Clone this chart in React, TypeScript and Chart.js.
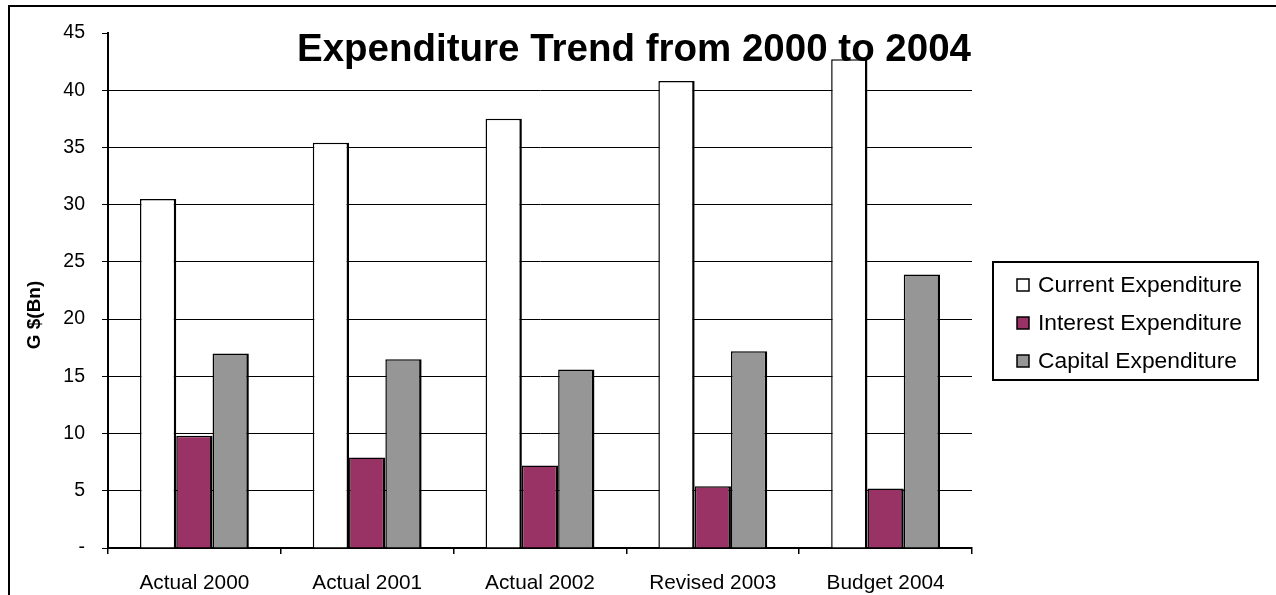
import React, { useEffect, useRef } from 'react';
import { Chart, registerables } from 'chart.js';

Chart.register(...registerables);

const categories = ['Actual 2000', 'Actual 2001', 'Actual 2002', 'Revised 2003', 'Budget 2004'];
const currentExpenditure = [30.5, 35.4, 37.5, 40.8, 42.7];
const interestExpenditure = [9.8, 7.9, 7.2, 5.4, 5.2];
const capitalExpenditure = [17.0, 16.5, 15.6, 17.2, 23.9];
const seriesLabels = ['Current Expenditure', 'Interest Expenditure', 'Capital Expenditure'];
const seriesColors = ['#FFFFFF', '#993366', '#969696'];
const yMin = 0;
const yMax = 45;
const yStep = 5;
const zeroTickLabel = '-';
const titleText = 'Expenditure Trend from 2000 to 2004';
const yAxisTitle = 'G $(Bn)';

const FONT = '"Liberation Sans", Arial, Helvetica, sans-serif';

const decorPlugin = {
  id: 'decor',
  beforeDraw(chart: any) {
    const ctx = chart.ctx;
    ctx.save();
    ctx.fillStyle = '#FFFFFF';
    ctx.fillRect(0, 0, chart.width, chart.height);
    ctx.strokeStyle = '#000000';
    ctx.lineWidth = 2;
    ctx.strokeRect(9, 6, chart.width + 40, chart.height + 40);
    ctx.restore();
  },
  afterDraw(chart: any) {
    const ctx = chart.ctx;
    ctx.save();
    // Title
    ctx.fillStyle = '#000000';
    ctx.font = `bold 38.5px ${FONT}`;
    ctx.textAlign = 'center';
    ctx.textBaseline = 'middle';
    ctx.fillText(titleText, 634, 50);
    // Y axis title
    ctx.save();
    ctx.translate(35, 315);
    ctx.rotate(-Math.PI / 2);
    ctx.font = `bold 19px ${FONT}`;
    ctx.fillText(yAxisTitle, 0, 0);
    ctx.restore();
    // Legend
    ctx.lineWidth = 2;
    ctx.strokeStyle = '#000000';
    ctx.strokeRect(993, 262, 265, 118);
    ctx.font = `22.8px ${FONT}`;
    ctx.textAlign = 'left';
    chart.data.datasets.forEach((ds: any, i: number) => {
      const cy = 285 + i * 38;
      ctx.fillStyle = ds.backgroundColor;
      ctx.fillRect(1017, cy - 6, 12, 12);
      ctx.lineWidth = 1.5;
      ctx.strokeRect(1017, cy - 6, 12, 12);
      ctx.fillStyle = '#000000';
      ctx.fillText(ds.label, 1038, cy + 1);
    });
    ctx.restore();
  },
};

export default function App() {
  const ref = useRef<HTMLCanvasElement | null>(null);
  useEffect(() => {
    if (!ref.current) return;
    const datasets = [currentExpenditure, interestExpenditure, capitalExpenditure].map((vals, i) => ({
      label: seriesLabels[i],
      data: vals,
      backgroundColor: seriesColors[i],
      borderColor: '#000000',
      borderWidth: { top: 1.5, left: 1.5, right: 2.5, bottom: 0 },
      borderSkipped: false,
      categoryPercentage: 0.63,
      barPercentage: 1,
    }));
    const chart = new Chart(ref.current, {
      type: 'bar',
      data: { labels: categories, datasets },
      plugins: [decorPlugin],
      options: {
        animation: false,
        responsive: false,
        devicePixelRatio: 1,
        layout: { padding: { top: 33, right: 304, left: 0, bottom: 0 } },
        plugins: { legend: { display: false }, title: { display: false }, tooltip: { enabled: false } },
        scales: {
          x: {
            offset: true,
            afterFit: (s: any) => { s.height = 47; },
            grid: { offset: true, drawOnChartArea: false, drawTicks: true, tickLength: 6, color: '#000000', lineWidth: 1.5 },
            border: { display: true, color: '#000000', width: 2 },
            ticks: { color: '#000000', font: { family: FONT, size: 20.8 }, padding: 17, maxRotation: 0 },
          },
          y: {
            min: yMin,
            max: yMax,
            afterFit: (s: any) => { s.width = 108; },
            grid: {
              color: (c: any) => (c.tick && c.tick.value === yMax ? 'rgba(0,0,0,0)' : '#000000'),
              tickColor: '#000000',
              lineWidth: 1,
              drawTicks: true,
              tickLength: 6,
            },
            border: { display: true, color: '#000000', width: 2 },
            ticks: {
              stepSize: yStep,
              color: '#000000',
              font: { family: FONT, size: 19.5 },
              padding: 17,
              callback: (v: any) => (Number(v) === 0 ? zeroTickLabel : String(v)),
            },
          },
        },
      },
    });
    return () => chart.destroy();
  }, []);
  return (
    <div style={{ position: 'absolute', left: 0, top: 0, width: 1276, height: 595, overflow: 'hidden' }}>
      <canvas ref={ref} width={1276} height={595} style={{ display: 'block' }} />
    </div>
  );
}
